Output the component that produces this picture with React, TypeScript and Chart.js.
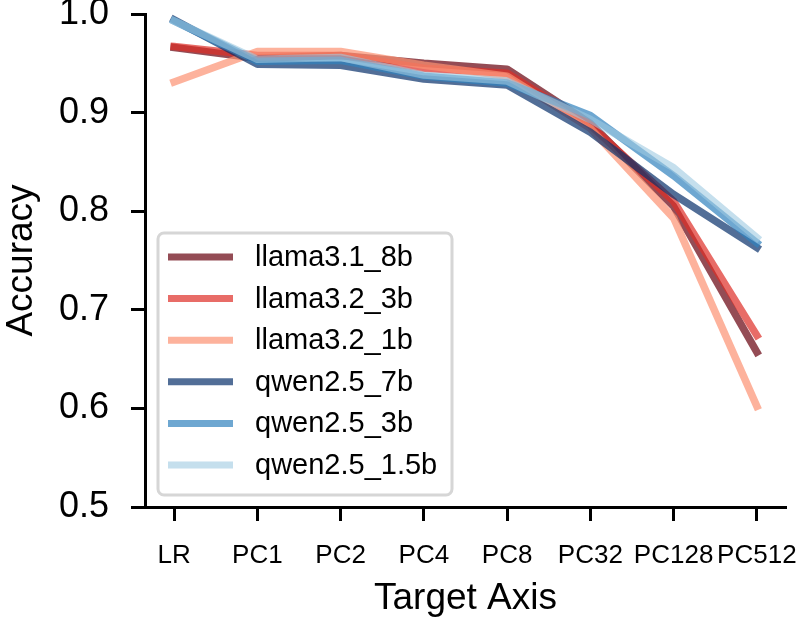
import React, { useEffect, useRef } from "react";
import { Chart, registerables } from "chart.js";

Chart.register(...registerables);

const categories = ["LR", "PC1", "PC2", "PC4", "PC8", "PC32", "PC128", "PC512"];

const seriesNames = [
  "llama3.1_8b",
  "llama3.2_3b",
  "llama3.2_1b",
  "qwen2.5_7b",
  "qwen2.5_3b",
  "qwen2.5_1.5b",
];

const llama31_8b = [0.966, 0.955, 0.958, 0.95, 0.944, 0.889, 0.805, 0.657];
const llama32_3b = [0.967, 0.958, 0.958, 0.945, 0.94, 0.887, 0.81, 0.674];
const llama32_1b = [0.931, 0.962, 0.962, 0.948, 0.937, 0.884, 0.793, 0.602];
const qwen25_7b = [0.994, 0.949, 0.948, 0.934, 0.928, 0.88, 0.817, 0.763];
const qwen25_3b = [0.993, 0.952, 0.953, 0.937, 0.93, 0.897, 0.836, 0.768];
const qwen25_15b = [0.993, 0.954, 0.956, 0.938, 0.932, 0.893, 0.844, 0.773];

const seriesValues = [llama31_8b, llama32_3b, llama32_1b, qwen25_7b, qwen25_3b, qwen25_15b];

const seriesColors = [
  "rgba(103,0,13,0.7)",
  "rgba(222,45,38,0.7)",
  "rgba(252,146,114,0.7)",
  "rgba(8,48,107,0.7)",
  "rgba(49,130,189,0.7)",
  "rgba(158,202,225,0.6)",
];

const yTicks = [0.5, 0.6, 0.7, 0.8, 0.9, 1.0];

const FONT = "'Liberation Sans', Arial, Helvetica, sans-serif";

const legendPlugin = {
  id: "boxLegend",
  afterDraw(chart: any) {
    const ctx = chart.ctx;
    const datasets = chart.data.datasets;
    ctx.save();
    const bx = 158, by = 233, bw = 294, bh = 262, r = 6;
    ctx.beginPath();
    ctx.moveTo(bx + r, by);
    ctx.lineTo(bx + bw - r, by);
    ctx.arcTo(bx + bw, by, bx + bw, by + r, r);
    ctx.lineTo(bx + bw, by + bh - r);
    ctx.arcTo(bx + bw, by + bh, bx + bw - r, by + bh, r);
    ctx.lineTo(bx + r, by + bh);
    ctx.arcTo(bx, by + bh, bx, by + bh - r, r);
    ctx.lineTo(bx, by + r);
    ctx.arcTo(bx, by, bx + r, by, r);
    ctx.closePath();
    ctx.fillStyle = "rgba(255,255,255,0.8)";
    ctx.fill();
    ctx.lineWidth = 3;
    ctx.strokeStyle = "#d6d6d6";
    ctx.stroke();

    ctx.font = `29px ${FONT}`;
    ctx.textBaseline = "middle";
    ctx.textAlign = "left";
    datasets.forEach((ds: any, i: number) => {
      const y = 257 + i * 41.6;
      ctx.beginPath();
      ctx.moveTo(168, y);
      ctx.lineTo(233, y);
      ctx.lineWidth = 7;
      ctx.lineCap = "butt";
      ctx.strokeStyle = ds.borderColor;
      ctx.stroke();
      ctx.fillStyle = "#000";
      ctx.fillText(ds.label, 255, y + 1);
    });
    ctx.restore();
  },
};

export default function App() {
  const canvasRef = useRef<HTMLCanvasElement | null>(null);

  useEffect(() => {
    document.body.style.margin = "0";
    const canvas = canvasRef.current;
    if (!canvas) return;
    const chart = new Chart(canvas, {
      type: "line",
      data: {
        datasets: seriesNames.map((name, i) => ({
          label: name,
          data: seriesValues[i].map((v, j) => ({ x: j, y: v })),
          borderColor: seriesColors[i],
          backgroundColor: seriesColors[i],
          borderWidth: 7.5,
          borderCapStyle: "square" as const,
          borderJoinStyle: "round" as const,
          pointRadius: 0,
          pointHoverRadius: 0,
          tension: 0,
          fill: false,
          order: seriesNames.length - i,
        })),
      },
      options: {
        animation: false,
        responsive: false,
        maintainAspectRatio: false,
        events: [],
        layout: { padding: { top: 14, right: 14, left: 0, bottom: 0 } },
        plugins: {
          legend: { display: false },
          tooltip: { enabled: false },
        },
        scales: {
          x: {
            type: "linear",
            min: -0.35,
            max: 7.35,
            afterBuildTicks: (scale: any) => {
              scale.ticks = categories.map((_, i) => ({ value: i }));
            },
            afterFit: (scale: any) => {
              scale.height = 117;
              scale.paddingLeft = 0;
              scale.paddingRight = 0;
            },
            ticks: {
              autoSkip: false,
              maxRotation: 0,
              minRotation: 0,
              padding: 19,
              color: "#000",
              font: { family: FONT, size: 26 },
              callback: (v: any) => categories[Math.round(Number(v))] ?? "",
            },
            grid: {
              display: true,
              drawOnChartArea: false,
              drawTicks: true,
              tickLength: 14,
              tickWidth: 3,
              tickColor: "#000",
            },
            border: { display: true, color: "#000", width: 3 },
            title: {
              display: true,
              text: "Target Axis",
              color: "#000",
              font: { family: FONT, size: 37 },
              padding: { top: 0, bottom: 3 },
            },
          },
          y: {
            type: "linear",
            min: 0.5,
            max: 1.0,
            afterBuildTicks: (scale: any) => {
              scale.ticks = yTicks.map((v) => ({ value: v }));
            },
            afterFit: (scale: any) => {
              scale.width = 145;
              scale.paddingTop = 0;
              scale.paddingBottom = 0;
            },
            ticks: {
              padding: 22,
              color: "#000",
              font: { family: FONT, size: 36 },
              callback: (v: any) => Number(v).toFixed(1),
            },
            grid: {
              display: true,
              drawOnChartArea: false,
              drawTicks: true,
              tickLength: 14,
              tickWidth: 3,
              tickColor: "#000",
            },
            border: { display: true, color: "#000", width: 3 },
            title: {
              display: true,
              text: "Accuracy",
              color: "#000",
              font: { family: FONT, size: 37 },
              padding: { top: 0, bottom: 0 },
            },
          },
        },
      },
      plugins: [legendPlugin],
    });
    return () => chart.destroy();
  }, []);

  return (
    <div style={{ width: 800, height: 624, background: "#fff" }}>
      <canvas ref={canvasRef} width={800} height={624} style={{ width: 800, height: 624, display: "block" }} />
    </div>
  );
}
